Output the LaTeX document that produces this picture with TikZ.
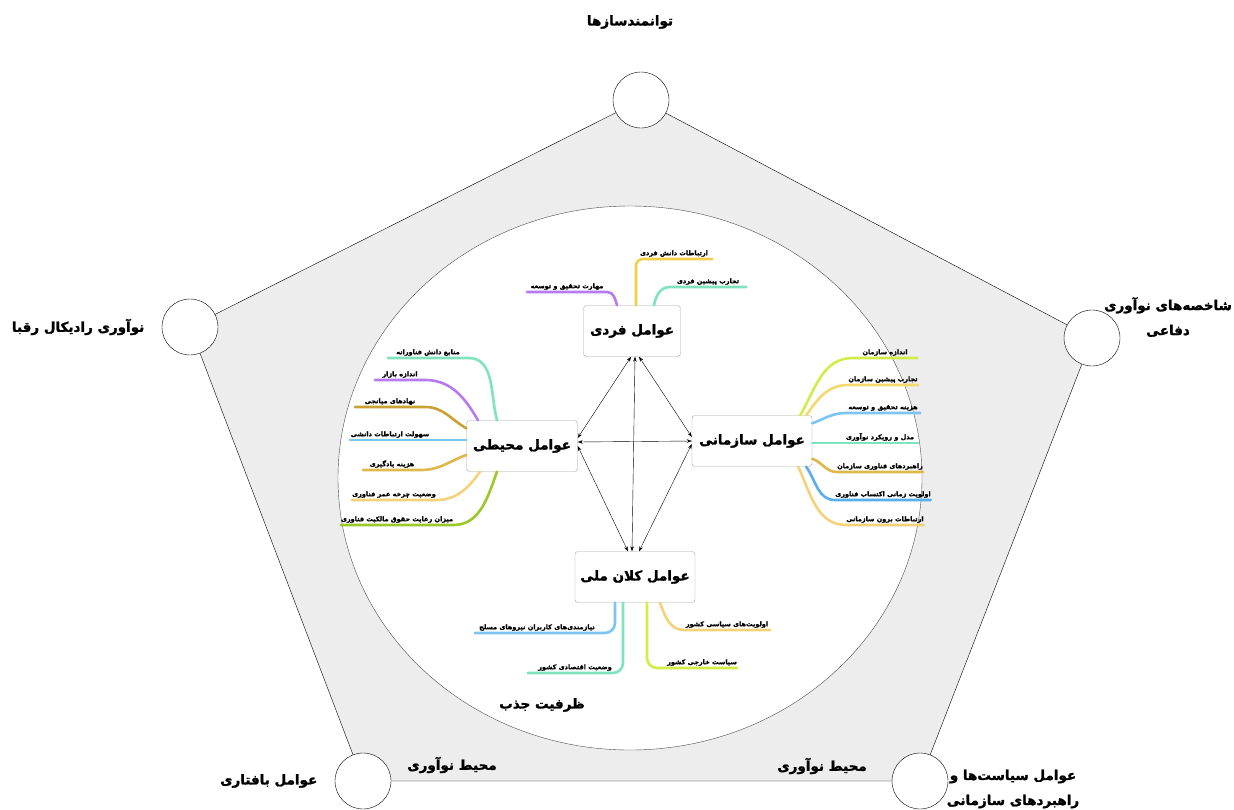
\documentclass[tikz,border=0pt]{standalone}
\usepackage{fontspec}
\newfontfamily\fa[Script=Arabic, BoldFeatures={FakeBold=1.6}]{DejaVu Sans}
\TeXXeTstate=1
\usetikzlibrary{arrows.meta,positioning}
\newcommand{\fatxt}[1]{\beginR #1\endR}
\definecolor{pale}{HTML}{EDEDED}
\definecolor{mint}{HTML}{7FE3BD}
\definecolor{lilac}{HTML}{B57BEF}
\definecolor{sun}{HTML}{F2CF4A}
\definecolor{ochre}{HTML}{C9A233}
\definecolor{sky}{HTML}{7CC4F2}
\definecolor{goldy}{HTML}{DDB84A}
\definecolor{cream}{HTML}{F3D27A}
\definecolor{grass}{HTML}{9CC92A}
\definecolor{limey}{HTML}{D2EC4A}
\definecolor{azure}{HTML}{5AAEEE}
\tikzset{
  corner/.style={circle, draw, fill=white, minimum size=56pt, inner sep=0pt},
  factor/.style={draw=gray!70, rounded corners=3pt, fill=white, minimum height=51pt,
    font=\fa\bfseries\fontsize{13.5}{16}\selectfont},
  leaf/.style={anchor=south, inner xsep=0pt, inner ysep=2pt,
    font=\fa\bfseries\fontsize{6.5}{8}\selectfont},
  twig/.style={line width=2.6pt, line cap=round},
  title/.style={align=center, font=\fa\bfseries\fontsize{13.5}{25}\selectfont},
  link/.style={{Stealth[length=5pt,width=3.5pt]}-{Stealth[length=5pt,width=3.5pt]}, thin}
}
\begin{document}
\begin{tikzpicture}[x=1pt,y=-1pt]
  \useasboundingbox (0,0) rectangle (1234,809);
  % pentagon and inner circle
  \coordinate (ptop) at (641,100);
  \coordinate (pleft) at (190,327);
  \coordinate (pright) at (1092,338);
  \coordinate (pbl) at (363,781);
  \coordinate (pbr) at (920,781);
  \fill[pale] (ptop) -- (pright) -- (pbr) -- (pbl) -- (pleft) -- cycle;
  \draw[gray!60!black, fill=white] (630,478) ellipse [x radius=292pt, y radius=272pt];
  \node[corner] (ctop) at (ptop) {};
  \node[corner] (cleft) at (pleft) {};
  \node[corner] (cright) at (pright) {};
  \node[corner] (cbl) at (pbl) {};
  \node[corner] (cbr) at (pbr) {};
  \draw (ctop) -- (cright) -- (cbr) -- (cbl) -- (cleft) -- (ctop);
  \node[title] (tenab) at (630,22) {\fatxt{توانمندسازها}};
  \node[title, left=14pt of cleft] (trival) {\fatxt{نوآوری رادیکال رقبا}};
  \node[title] (tdef) at (1168,317) {\fatxt{شاخصه‌های نوآوری}\\\fatxt{دفاعی}};
  \node[title, left=14pt of cbl] (tcont) {\fatxt{عوامل بافتاری}};
  \node[title] (tpol) at (1013,789) {\fatxt{عوامل سیاست‌ها و}\\\fatxt{راهبردهای سازمانی}};
  \node[title] (tenv1) at (452,765) {\fatxt{محیط نوآوری}};
  \node[title] (tenv2) at (822,766) {\fatxt{محیط نوآوری}};
  \node[title] (tabs) at (542,705) {\fatxt{ظرفیت جذب}};
  % factor boxes
  \node[factor, minimum width=97pt] (fardi) at (632,331) {\fatxt{عوامل فردی}};
  \node[factor, minimum width=111pt] (mohiti) at (522,446) {\fatxt{عوامل محیطی}};
  \node[factor, minimum width=120pt] (sazmani) at (752,441) {\fatxt{عوامل سازمانی}};
  \node[factor, minimum width=120pt] (kalan) at (635,577) {\fatxt{عوامل کلان ملی}};
  \draw[link] ([xshift=-1pt]fardi.south) -- ([yshift=8pt]mohiti.east);
  \draw[link] ([xshift=3pt]fardi.south) -- ([xshift=-3pt]kalan.north);
  \draw[link] ([xshift=7pt]fardi.south) -- ([yshift=4pt]sazmani.west);
  \draw[link] ([yshift=4pt]mohiti.east) -- (sazmani.west);
  \draw[link] (mohiti.east) -- ([xshift=-7pt]kalan.north);
  \draw[link] ([yshift=-3pt]sazmani.west) -- ([xshift=4pt]kalan.north);
  % individual branches
  \node[leaf, minimum width=80pt] (f1) at (567,292) {\fatxt{مهارت تحقیق و توسعه}};
  \draw[twig, lilac] ([xshift=-15pt]fardi.north) to[out=105,in=0] (f1.south east) -- (f1.south west);
  \node[leaf, minimum width=76pt] (f2) at (674,259) {\fatxt{ارتباطات دانش فردی}};
  \draw[twig, sun, rounded corners=7pt] ([xshift=4pt]fardi.north) |- (f2.south east);
  \node[leaf, minimum width=76pt] (f3) at (708,287) {\fatxt{تجارب پیشین فردی}};
  \draw[twig, mint] ([xshift=22pt]fardi.north) to[out=80,in=180] (f3.south west) -- (f3.south east);
  % environmental branches
  \node[leaf, minimum width=80pt] (m1) at (428,358) {\fatxt{منابع دانش فناورانه}};
  \draw[twig, mint] ([xshift=-25pt]mohiti.north) to[out=105,in=0] (m1.south east) -- (m1.south west);
  \node[leaf, minimum width=50pt] (m2) at (400,380) {\fatxt{اندازه بازار}};
  \draw[twig, lilac] ([xshift=-44pt]mohiti.north) to[out=120,in=0] (m2.south east) -- (m2.south west);
  \node[leaf, minimum width=70pt] (m3) at (390,407) {\fatxt{نهادهای میانجی}};
  \draw[twig, ochre] ([yshift=-8pt]mohiti.north west) to[out=150,in=0] (m3.south east) -- (m3.south west);
  \node[leaf, minimum width=80pt] (m4) at (390,440) {\fatxt{سهولت ارتباطات دانشی}};
  \draw[twig, sky] ([yshift=6pt]mohiti.west) -- (m4.south east) -- (m4.south west);
  \node[leaf, minimum width=58pt] (m5) at (392,470) {\fatxt{هزینه یادگیری}};
  \draw[twig, goldy] ([yshift=-9pt]mohiti.west) to[out=200,in=0] (m5.south east) -- (m5.south west);
  \node[leaf, minimum width=82pt] (m6) at (394,500) {\fatxt{وضعیت چرخه عمر فناوری}};
  \draw[twig, cream] ([xshift=-42pt]mohiti.south) to[out=235,in=0] (m6.south east) -- (m6.south west);
  \node[leaf, minimum width=108pt] (m7) at (397,525) {\fatxt{میزان رعایت حقوق مالکیت فناوری}};
  \draw[twig, grass] ([xshift=-25pt]mohiti.south) to[out=250,in=0] (m7.south east) -- (m7.south west);
  % organisational branches
  \node[leaf, minimum width=64pt] (s1) at (885,358) {\fatxt{اندازه سازمان}};
  \draw[twig, limey] ([xshift=-12pt]sazmani.north east) to[out=60,in=180] (s1.south west) -- (s1.south east);
  \node[leaf, minimum width=70pt] (s2) at (883,385) {\fatxt{تجارب پیشین سازمان}};
  \draw[twig, sun!80] ([xshift=-6pt]sazmani.north east) to[out=55,in=180] (s2.south west) -- (s2.south east);
  \node[leaf, minimum width=74pt] (s3) at (883,413) {\fatxt{هزینه تحقیق و توسعه}};
  \draw[twig, sky] ([yshift=-8pt]sazmani.north east) to[out=20,in=180] (s3.south west) -- (s3.south east);
  \node[leaf, minimum width=76pt] (s4) at (880,443) {\fatxt{مدل و رویکرد نوآوری}};
  \draw[twig, mint] ([yshift=-2pt]sazmani.east) to[out=0,in=180] (s4.south west) -- (s4.south east);
  \node[leaf, minimum width=76pt] (s5) at (880,472) {\fatxt{راهبردهای فناوری سازمان}};
  \draw[twig, goldy] ([yshift=8pt]sazmani.south east) to[out=-20,in=180] (s5.south west) -- (s5.south east);
  \node[leaf, minimum width=90pt] (s6) at (883,500) {\fatxt{اولویت زمانی اکتساب فناوری}};
  \draw[twig, azure] ([xshift=-6pt]sazmani.south east) to[out=-55,in=180] (s6.south west) -- (s6.south east);
  \node[leaf, minimum width=70pt] (s7) at (885,525) {\fatxt{ارتباطات برون سازمانی}};
  \draw[twig, cream] ([xshift=-14pt]sazmani.south east) to[out=-65,in=180] (s7.south west) -- (s7.south east);
  % national branches
  \node[leaf, minimum width=124pt] (k1) at (537,633) {\fatxt{نیازمندی‌های کاربران نیروهای مسلح}};
  \draw[twig, sky, rounded corners=10pt] ([xshift=-20pt]kalan.south) |- (k1.south west);
  \node[leaf, minimum width=94pt] (k2) at (575,673) {\fatxt{وضعیت اقتصادی کشور}};
  \draw[twig, mint, rounded corners=10pt] ([xshift=-12pt]kalan.south) |- (k2.south west);
  \node[leaf, minimum width=86pt] (k3) at (727,630) {\fatxt{اولویت‌های سیاسی کشور}};
  \draw[twig, cream] ([xshift=25pt]kalan.south) to[out=-70,in=180] (k3.south west) -- (k3.south east);
  \node[leaf, minimum width=70pt] (k4) at (702,668) {\fatxt{سیاست خارجی کشور}};
  \draw[twig, limey, rounded corners=10pt] ([xshift=12pt]kalan.south) |- (k4.south east);
\end{tikzpicture}
\end{document}
